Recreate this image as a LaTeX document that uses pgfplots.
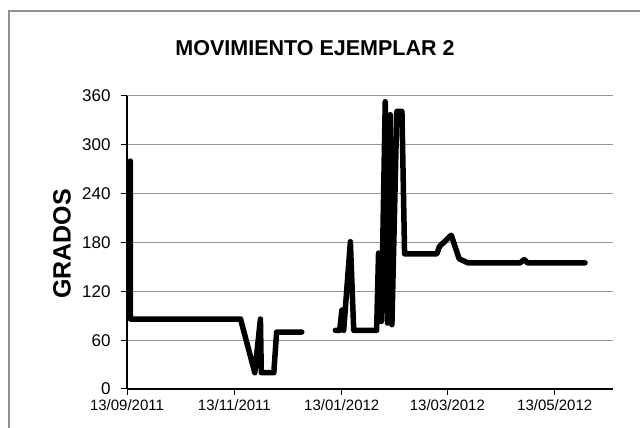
\documentclass[border=0pt]{standalone}
\usepackage{pgfplots}
\pgfplotsset{compat=1.18}
\usepackage{fontspec}
\setmainfont{Liberation Sans}
\definecolor{gridgray}{RGB}{150,150,150}
\definecolor{framegray}{RGB}{140,145,145}
\begin{document}
\begin{tikzpicture}[x=1pt,y=1pt]
\clip (0,0) rectangle (640,428);
\fill[white] (0,0) rectangle (640,428);
\draw[framegray, line width=2.2pt] (9,-10) -- (9,417) -- (660,417);
\node[font=\bfseries\fontsize{21.5}{21.5}\selectfont] at (315,380) {MOVIMIENTO EJEMPLAR 2};
\node[font=\bfseries\fontsize{25}{25}\selectfont, rotate=90] at (62,184) {GRADOS};
\begin{axis}[
  at={(127pt,39pt)}, anchor=origin,
  scale only axis, width=486pt, height=293pt,
  xmin=0, xmax=276.1, ymin=0, ymax=360,
  axis x line=bottom, axis y line=left,
  axis line style={-, black, line width=1.2pt},
  xtick={0,61,122,182,243},
  xticklabels={13/09/2011,13/11/2011,13/01/2012,13/03/2012,13/05/2012},
  ytick={0,60,120,180,240,300,360},
  tick align=outside, major tick length=6pt,
  tick style={black, line width=1pt},
  ymajorgrids, grid style={gridgray, line width=1pt},
  xticklabel style={font=\fontsize{15}{15}\selectfont, yshift=-1pt},
  yticklabel style={font=\fontsize{17}{17}\selectfont, xshift=-7pt},
  /pgf/number format/assume math mode=true,
  clip=false,
]
\addplot[black, line width=5.5pt, line join=round, line cap=round] coordinates {
(1.9,280) (1.9,86) (64.5,86) (72.6,20) (75.8,86) (76.3,20) (83.4,20) (85,70) (99.3,70)
};
\addplot[black, line width=5.5pt, line join=round, line cap=round] coordinates {
(118.4,72) (120.8,72) (122.1,97) (123.1,72) (126.9,181) (128.8,72) (141.8,72)
(142.9,167) (144.5,83) (146.7,353) (148.0,81) (149.6,337) (150.5,79) (153.3,341)
(156.2,341) (157.7,166) (176.0,166) (177.5,175) (184.2,189) (188.7,160) (193.6,155)
(223.3,155) (225.7,159) (227.5,155) (260.2,155)
};
\end{axis}
\end{tikzpicture}
\end{document}
